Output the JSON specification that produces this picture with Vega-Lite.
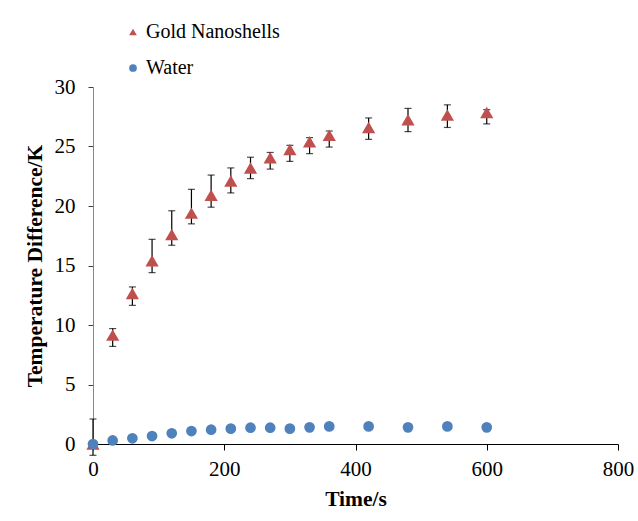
{
  "$schema": "https://vega.github.io/schema/vega-lite/v6.json",
  "width": 525,
  "height": 357,
  "autosize": {"type": "none"},
  "padding": {"left": 93, "top": 87, "right": 20, "bottom": 77},
  "background": "white",
  "config": {
    "view": {"stroke": null},
    "font": "Liberation Serif",
    "axis": {"grid": false, "labelFontSize": 21, "labelColor": "black", "titleFontSize": 21.5, "titleFontWeight": "bold", "titleColor": "black"},
    "axisX": {"domainColor": "black", "tickColor": "black", "tickSize": 6, "labelPadding": 8, "labelFlush": false, "titlePadding": 9},
    "axisY": {"domainColor": "#868686", "tickColor": "#404040", "tickSize": 5, "labelPadding": 13, "titlePadding": 8},
    "legend": {"symbolSize": 60}
  },
  "datasets": {
    "points": [
      {"series": "Gold Nanoshells", "t": 0, "v": 0},
      {"series": "Gold Nanoshells", "t": 30, "v": 9.15},
      {"series": "Gold Nanoshells", "t": 60, "v": 12.65},
      {"series": "Gold Nanoshells", "t": 90, "v": 15.4},
      {"series": "Gold Nanoshells", "t": 120, "v": 17.6},
      {"series": "Gold Nanoshells", "t": 150, "v": 19.4},
      {"series": "Gold Nanoshells", "t": 180, "v": 20.9},
      {"series": "Gold Nanoshells", "t": 210, "v": 22.1},
      {"series": "Gold Nanoshells", "t": 240, "v": 23.2},
      {"series": "Gold Nanoshells", "t": 270, "v": 24.05},
      {"series": "Gold Nanoshells", "t": 300, "v": 24.75},
      {"series": "Gold Nanoshells", "t": 330, "v": 25.4},
      {"series": "Gold Nanoshells", "t": 360, "v": 25.95},
      {"series": "Gold Nanoshells", "t": 420, "v": 26.6},
      {"series": "Gold Nanoshells", "t": 480, "v": 27.25},
      {"series": "Gold Nanoshells", "t": 540, "v": 27.65},
      {"series": "Gold Nanoshells", "t": 600, "v": 27.85},
      {"series": "Water", "t": 0, "v": 0},
      {"series": "Water", "t": 30, "v": 0.3},
      {"series": "Water", "t": 60, "v": 0.48},
      {"series": "Water", "t": 90, "v": 0.67},
      {"series": "Water", "t": 120, "v": 0.9},
      {"series": "Water", "t": 150, "v": 1.09},
      {"series": "Water", "t": 180, "v": 1.2},
      {"series": "Water", "t": 210, "v": 1.29},
      {"series": "Water", "t": 240, "v": 1.37},
      {"series": "Water", "t": 270, "v": 1.37},
      {"series": "Water", "t": 300, "v": 1.29},
      {"series": "Water", "t": 330, "v": 1.4},
      {"series": "Water", "t": 360, "v": 1.48},
      {"series": "Water", "t": 420, "v": 1.48},
      {"series": "Water", "t": 480, "v": 1.4},
      {"series": "Water", "t": 540, "v": 1.48},
      {"series": "Water", "t": 600, "v": 1.4}
    ],
    "errors": [
      {"t": 0, "lo": -0.95, "hi": 2.1},
      {"t": 30, "lo": 8.2, "hi": 9.7},
      {"t": 60, "lo": 11.65, "hi": 13.2},
      {"t": 90, "lo": 14.4, "hi": 17.2},
      {"t": 120, "lo": 16.7, "hi": 19.6},
      {"t": 150, "lo": 18.5, "hi": 21.4},
      {"t": 180, "lo": 19.9, "hi": 22.6},
      {"t": 210, "lo": 21.1, "hi": 23.2},
      {"t": 240, "lo": 22.3, "hi": 24.1},
      {"t": 270, "lo": 23.1, "hi": 24.5},
      {"t": 300, "lo": 23.75, "hi": 25.1},
      {"t": 330, "lo": 24.4, "hi": 25.75},
      {"t": 360, "lo": 24.95, "hi": 26.3},
      {"t": 420, "lo": 25.6, "hi": 27.4},
      {"t": 480, "lo": 26.25, "hi": 28.2},
      {"t": 540, "lo": 26.6, "hi": 28.5},
      {"t": 600, "lo": 26.9, "hi": 28.1}
    ]
  },
  "layer": [
    {
      "data": {"name": "errors"},
      "mark": {"type": "errorbar", "color": "black", "thickness": 1.2, "ticks": {"size": 7, "color": "black"}},
      "encoding": {
        "x": {"field": "t", "type": "quantitative", "scale": {"domain": [0, 800]}, "axis": {"values": [0, 200, 400, 600, 800], "title": "Time/s"}},
        "y": {"field": "lo", "type": "quantitative", "scale": {"domain": [0, 30]}, "axis": {"values": [0, 5, 10, 15, 20, 25, 30], "title": "Temperature Difference/K"}},
        "y2": {"field": "hi"}
      }
    },
    {
      "data": {"name": "points"},
      "transform": [{"filter": "datum.series === 'Gold Nanoshells'"}],
      "mark": {"type": "point", "filled": true, "opacity": 1, "size": 175},
      "encoding": {
        "x": {"field": "t", "type": "quantitative", "scale": {"domain": [0, 800]}, "axis": {"values": [0, 200, 400, 600, 800], "title": "Time/s"}},
        "y": {"field": "v", "type": "quantitative", "scale": {"domain": [0, 30]}, "axis": {"values": [0, 5, 10, 15, 20, 25, 30], "title": "Temperature Difference/K"}},
        "color": {
          "field": "series", "type": "nominal",
          "scale": {"domain": ["Gold Nanoshells", "Water"], "range": ["#C0504D", "#4F81BD"]},
          "legend": {"orient": "none", "legendX": 30, "legendY": -65, "title": null, "labelFontSize": 20, "labelColor": "black", "symbolSize": 60, "rowPadding": 16, "labelOffset": 3, "padding": 0}
        },
        "shape": {
          "field": "series", "type": "nominal",
          "scale": {"domain": ["Gold Nanoshells", "Water"], "range": ["triangle-up", "circle"]},
          "legend": {"orient": "none", "legendX": 30, "legendY": -65, "title": null, "labelFontSize": 20, "labelColor": "black", "symbolSize": 60, "rowPadding": 16, "labelOffset": 3, "padding": 0}
        }
      }
    },
    {
      "data": {"name": "points"},
      "transform": [{"filter": "datum.series === 'Water'"}],
      "mark": {"type": "point", "filled": true, "opacity": 1, "size": 115},
      "encoding": {
        "x": {"field": "t", "type": "quantitative", "scale": {"domain": [0, 800]}, "axis": {"values": [0, 200, 400, 600, 800], "title": "Time/s"}},
        "y": {"field": "v", "type": "quantitative", "scale": {"domain": [0, 30]}, "axis": {"values": [0, 5, 10, 15, 20, 25, 30], "title": "Temperature Difference/K"}},
        "color": {
          "field": "series", "type": "nominal",
          "scale": {"domain": ["Gold Nanoshells", "Water"], "range": ["#C0504D", "#4F81BD"]},
          "legend": {"orient": "none", "legendX": 30, "legendY": -65, "title": null, "labelFontSize": 20, "labelColor": "black", "symbolSize": 60, "rowPadding": 16, "labelOffset": 3, "padding": 0}
        },
        "shape": {
          "field": "series", "type": "nominal",
          "scale": {"domain": ["Gold Nanoshells", "Water"], "range": ["triangle-up", "circle"]},
          "legend": {"orient": "none", "legendX": 30, "legendY": -65, "title": null, "labelFontSize": 20, "labelColor": "black", "symbolSize": 60, "rowPadding": 16, "labelOffset": 3, "padding": 0}
        }
      }
    }
  ]
}
